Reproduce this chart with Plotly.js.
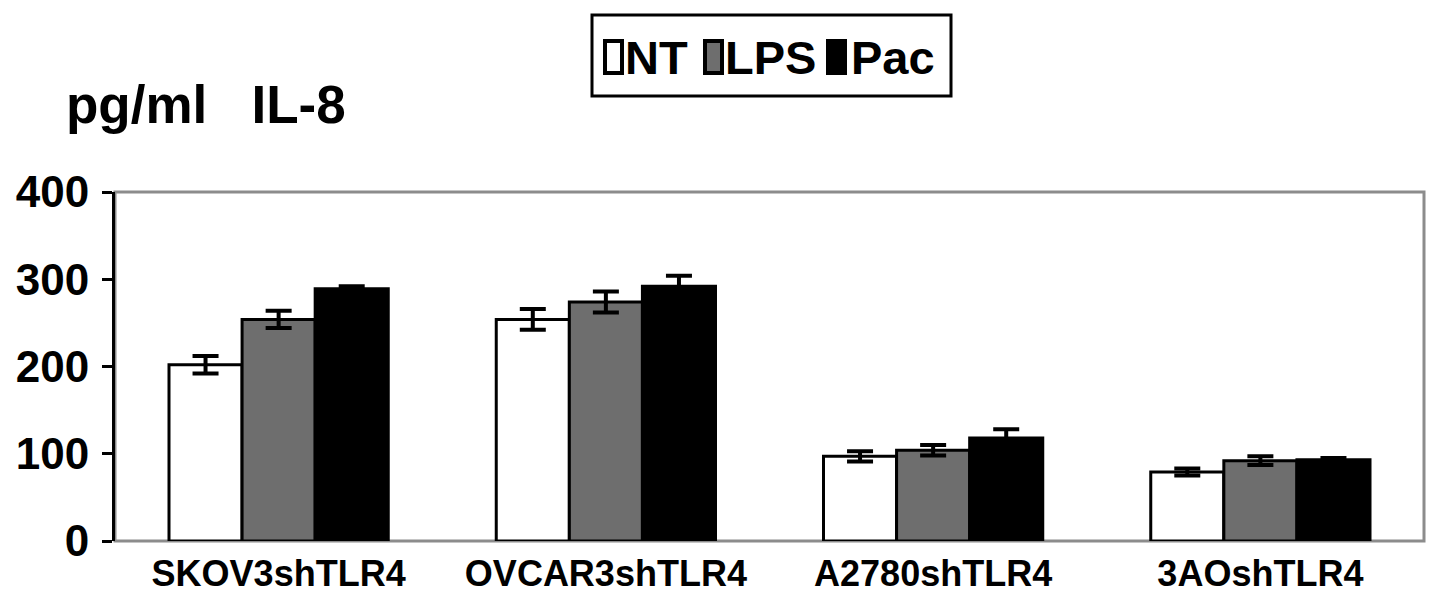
<!DOCTYPE html>
<html>
<head>
<meta charset="utf-8">
<script src="https://cdn.plot.ly/plotly-3.0.1.min.js"></script>
<style>
  body { margin: 0; background: #fff; }
  #graph { width: 1441px; height: 613px; }
</style>
</head>
<body>
<div id="graph"></div>
<script>
// data
const cellLines = ["SKOV3shTLR4", "OVCAR3shTLR4", "A2780shTLR4", "3AOshTLR4"];
const seriesNames = ["NT", "LPS", "Pac"];
const seriesColors = ["#ffffff", "#6e6e6e", "#000000"];

const ntValues = [202, 254, 97, 79];
const ntErrors = [10, 12, 6, 4];
const lpsValues = [254, 274, 104, 92];
const lpsErrors = [10, 12, 6, 5];
const pacValues = [289, 292, 118, 93];
const pacErrors = [3, 12, 10, 2];

const yTicks = [0, 100, 200, 300, 400];

// plot area in pixels
const W = 1441, H = 613;
const M = { l: 115, r: 17, t: 192, b: 72 };
const plotW = W - M.l - M.r;
const plotH = H - M.t - M.b;
const px = x => (x - M.l) / plotW;          // pixel x -> paper x
const py = y => (H - M.b - y) / plotH;      // pixel y -> paper y

const font = "'Liberation Sans', Arial, sans-serif";

function makeTrace(i, vals, errs) {
    return {
        type: "bar",
        name: seriesNames[i],
        x: cellLines,
        y: vals,
        marker: {
            color: seriesColors[i],
            line: { color: "#000", width: 3 }
        },
        error_y: {
            type: "data",
            array: errs,
            visible: true,
            thickness: 4,
            width: 13,
            color: "#000"
        },
        showlegend: false
    };
}

const traces = [
    makeTrace(0, ntValues, ntErrors),
    makeTrace(1, lpsValues, lpsErrors),
    makeTrace(2, pacValues, pacErrors)
];

// hand-built legend box (bar legend symbols can't be resized)
const swatchX = [605, 705, 828];
const labelX = [623, 723, 849];
const shapes = [
    // grey frame round the plot area
    {
        type: "rect", xref: "paper", yref: "paper",
        x0: 0, x1: 1, y0: 0, y1: 1,
        line: { color: "#8c8c8c", width: 3 },
        layer: "below"
    },
    // legend box
    {
        type: "rect", xref: "paper", yref: "paper",
        x0: px(592), x1: px(951), y0: py(96), y1: py(15),
        line: { color: "#000", width: 3 },
        fillcolor: "#fff"
    }
];
const annotations = [];

seriesNames.forEach((name, i) => {
    shapes.push({
        type: "rect", xref: "paper", yref: "paper",
        x0: px(swatchX[i]), x1: px(swatchX[i] + 17),
        y0: py(73), y1: py(41),
        line: { color: "#000", width: 4 },
        fillcolor: seriesColors[i]
    });
    annotations.push({
        xref: "paper", yref: "paper",
        x: px(labelX[i]), y: py(57),
        xanchor: "left", yanchor: "middle",
        text: name,
        showarrow: false,
        font: { family: font, size: 47, color: "#000", weight: "bold" }
    });
});

const layout = {
    width: W,
    height: H,
    margin: M,
    paper_bgcolor: "#fff",
    plot_bgcolor: "#fff",
    barmode: "group",
    bargap: 0.33,
    bargroupgap: 0,
    showlegend: false,
    title: {
        text: "pg/ml\u00a0\u00a0\u00a0IL-8",
        x: 66 / W,
        xanchor: "left",
        y: 1 - 104 / H,
        yanchor: "middle",
        font: { family: font, size: 53, color: "#000", weight: "bold" }
    },
    xaxis: {
        type: "category",
        showline: false,
        showgrid: false,
        ticks: "",
        ticklabelstandoff: 8,
        tickfont: { family: font, size: 36, color: "#000", weight: "bold" },
        fixedrange: true
    },
    yaxis: {
        range: [0, 400],
        tickvals: yTicks,
        showgrid: false,
        zeroline: false,
        showline: true,
        linecolor: "#000",
        linewidth: 3,
        ticks: "outside",
        ticklen: 10,
        tickwidth: 3,
        tickcolor: "#000",
        ticklabelstandoff: 4,
        tickfont: { family: font, size: 44, color: "#000", weight: "bold" },
        fixedrange: true
    },
    shapes: shapes,
    annotations: annotations
};

Plotly.newPlot("graph", traces, layout, { displayModeBar: false, staticPlot: true });
</script>
</body>
</html>
